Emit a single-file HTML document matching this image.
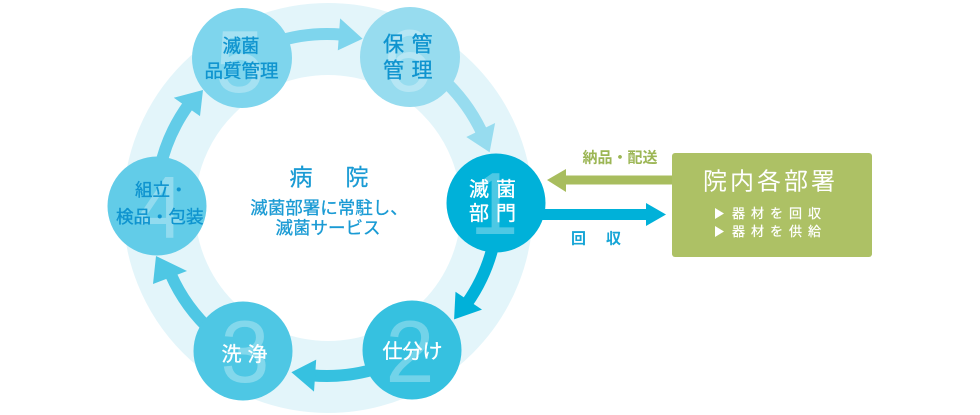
<!DOCTYPE html>
<html>
<head>
<meta charset="utf-8">
<style>
  html,body{margin:0;padding:0;background:#fff;}
  svg{display:block;}
  text{font-family:"Liberation Sans","Noto Sans CJK JP",sans-serif;}
</style>
</head>
<body>
<svg width="980" height="415" viewBox="0 0 980 415" xmlns="http://www.w3.org/2000/svg">
  <!-- ring -->
  <circle cx="328" cy="208" r="169" fill="none" stroke="#e3f5fa" stroke-width="72"/>

  <!-- arrows: shafts -->
  <g fill="none" stroke-width="12">
    <path d="M274.2 42.4 A171 171 0 0 1 341.9 34.6" stroke="#7ed5ed"/>
    <path d="M441.4 77.9 A171 171 0 0 1 482.0 132.7" stroke="#97dcef"/>
    <path d="M494.3 240.6 A171 171 0 0 1 467.1 303.1" stroke="#00b1d9"/>
    <path d="M379.8 367.6 A171 171 0 0 1 312.1 375.4" stroke="#36c1e0"/>
    <path d="M212.6 332.1 A171 171 0 0 1 170.8 274.5" stroke="#4ec7e4"/>
    <path d="M159.7 169.4 A171 171 0 0 1 188.7 104.5" stroke="#62cce8"/>
  </g>
  <!-- arrowheads -->
  <polygon points="340.1,18.4 362.6,38.7 337.8,50.4" fill="#7ed5ed"/>
  <polygon points="495.1,123.0 489.6,152.2 466.3,137.0" fill="#97dcef"/>
  <polygon points="482.0,309.6 454.1,319.4 455.5,291.7" fill="#00b1d9"/>
  <polygon points="314.0,391.6 291.4,372.3 316.2,359.6" fill="#36c1e0"/>
  <polygon points="153,284 156,256 187,271" fill="#4ec7e4"/>
  <polygon points="173.8,97.7 203,90 200.0,116.1" fill="#62cce8"/>

  <!-- circles -->
  <circle cx="496" cy="203" r="49.5" fill="#00b1d9"/>
  <circle cx="412" cy="350" r="49.5" fill="#36c1e0"/>
  <circle cx="243" cy="351" r="49.5" fill="#4ec7e4"/>
  <circle cx="157" cy="206" r="49.5" fill="#62cce8"/>
  <circle cx="242" cy="58" r="50" fill="#7ed5ed"/>
  <circle cx="410" cy="57" r="50" fill="#97dcef"/>

  <!-- big digits -->
  <g font-size="88" fill="#ffffff" fill-opacity="0.3" text-anchor="middle">
    <text x="494" y="234">1</text>
    <text x="410" y="382">2</text>
    <text x="245" y="382">3</text>
    <text x="160" y="238">4</text>
    <text x="240" y="92">5</text>
    <text x="408" y="91">6</text>
  </g>

  <!-- circle labels -->
  <g dominant-baseline="central" text-anchor="middle" stroke-width="0.35">
    <!-- 5 -->
    <text x="241" y="46" font-size="18.5" fill="#0f94cf" stroke="#0f94cf">滅菌</text>
    <text x="241.5" y="71" font-size="18.5" fill="#0f94cf" stroke="#0f94cf">品質管理</text>
    <!-- 6 -->
    <text x="393.5" y="45" font-size="21" fill="#0f94cf" stroke="#0f94cf">保</text>
    <text x="422" y="45" font-size="21" fill="#0f94cf" stroke="#0f94cf">管</text>
    <text x="393.5" y="71" font-size="21" fill="#0f94cf" stroke="#0f94cf">管</text>
    <text x="422" y="71" font-size="21" fill="#0f94cf" stroke="#0f94cf">理</text>
    <!-- 1 -->
    <text x="479" y="190" font-size="20" fill="#ffffff" stroke="#ffffff">滅</text>
    <text x="506" y="190" font-size="20" fill="#ffffff" stroke="#ffffff">菌</text>
    <text x="479" y="214" font-size="20" fill="#ffffff" stroke="#ffffff">部</text>
    <text x="506" y="214" font-size="20" fill="#ffffff" stroke="#ffffff">門</text>
    <!-- 2 -->
    <text x="412.5" y="352" font-size="20" fill="#ffffff" stroke="#ffffff">仕分け</text>
    <!-- 3 -->
    <text x="231.5" y="355" font-size="20" fill="#ffffff" stroke="#ffffff">洗</text>
    <text x="257.5" y="355" font-size="20" fill="#ffffff" stroke="#ffffff">浄</text>
  </g>
  <!-- 4 -->
  <g dominant-baseline="central" text-anchor="start" fill="#0f94cf" stroke="#0f94cf" stroke-width="0.35">
    <text x="135" y="190" font-size="17.5">組立・</text>
    <text x="116" y="217" font-size="17.5">検品・包装</text>
  </g>

  <!-- center text -->
  <g dominant-baseline="central" text-anchor="middle" fill="#1a9bd4" stroke="#1a9bd4" stroke-width="0.3">
    <text x="301" y="177" font-size="23">病</text>
    <text x="357" y="177" font-size="23">院</text>
    <text x="329" y="208" font-size="17.5">滅菌部署に常駐し、</text>
    <text x="328" y="228" font-size="17.5">滅菌サービス</text>
  </g>

  <!-- right arrows -->
  <rect x="565" y="175.5" width="108" height="9" fill="#a8bd5e"/>
  <polygon points="566,169 547,180 566,192" fill="#a8bd5e"/>
  <rect x="538" y="209" width="110" height="11" fill="#00b1d9"/>
  <polygon points="646,203 666,214.5 646,226" fill="#00b1d9"/>

  <text x="620" y="158" font-size="15" font-weight="bold" fill="#9cb655" text-anchor="middle" dominant-baseline="central">納品・配送</text>
  <text x="571" y="239" font-size="15" font-weight="bold" fill="#16a5d6" dominant-baseline="central">回</text>
  <text x="606" y="239" font-size="15" font-weight="bold" fill="#16a5d6" dominant-baseline="central">収</text>

  <!-- green box -->
  <rect x="672" y="153" width="200" height="104" rx="3" ry="3" fill="#adc165"/>
  <text x="703" y="182" font-size="24" fill="#ffffff" letter-spacing="3" dominant-baseline="central">院内各部署</text>
  <polygon points="715,208 724,213.5 715,219" fill="#ffffff"/>
  <polygon points="715,226 724,231.5 715,237" fill="#ffffff"/>
  <text x="732" y="213.5" font-size="13" fill="#ffffff" letter-spacing="6" dominant-baseline="central" stroke="#ffffff" stroke-width="0.25">器材を回収</text>
  <text x="732" y="231.5" font-size="13" fill="#ffffff" letter-spacing="6" dominant-baseline="central" stroke="#ffffff" stroke-width="0.25">器材を供給</text>
</svg>
</body>
</html>
